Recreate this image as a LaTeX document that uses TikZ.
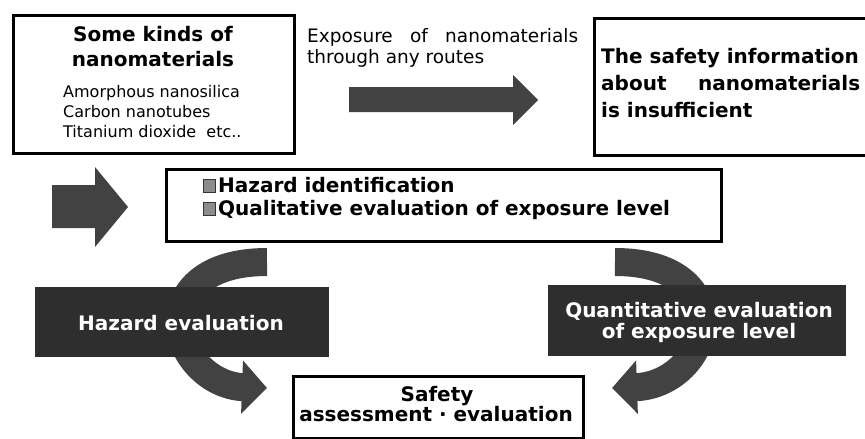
\documentclass[tikz,border=0pt]{standalone}
\usepackage{fontspec}
\setmainfont{DejaVu Sans}
\usetikzlibrary{arrows.meta}
\begin{document}
\begin{tikzpicture}[x=1pt,y=-1pt,
  box/.style={draw=black,line width=2.5pt,fill=white,inner sep=0pt,anchor=north west},
  darkbox/.style={fill=black!82,draw=black!82,line width=1pt,inner sep=0pt,anchor=north west},
  blockarrow/.style={fill=black!74},
  bent/.style={draw=black!74,line width=28pt,-{Triangle[length=25pt,width=52pt]}},
  bt/.style={font=\bfseries\fontsize{20}{24}\selectfont,inner sep=0pt},
  wt/.style={bt,text=white},
  st/.style={font=\fontsize{16}{20}\selectfont,inner sep=0pt,anchor=base west},
  et/.style={font=\fontsize{18.5}{22}\selectfont,inner sep=0pt,anchor=base west},
  bullet/.style={fill=black!45,draw=black!80,line width=1pt}
]
\useasboundingbox (0,0) rectangle (865,439);

% curved arrows (behind black boxes)
\draw[bent] (267,262) .. controls (205,262) and (180,292) .. (180,322)
  .. controls (180,355) and (210,386) .. (267,388);
\begin{scope}[xshift=882pt,xscale=-1]
\draw[bent] (267,262) .. controls (205,262) and (180,292) .. (180,322)
  .. controls (180,355) and (210,386) .. (270,388);
\end{scope}

% boxes
\node[box,minimum width=281pt,minimum height=138pt] (kinds) at (12,14) {};
\node[box,minimum width=290pt,minimum height=137pt] (info) at (593,17) {};
\node[box,minimum width=555pt,minimum height=72pt] (hazid) at (165,168) {};
\node[box,minimum width=290pt,minimum height=62pt] (safety) at (292,375) {};
\node[darkbox,minimum width=293pt,minimum height=69pt] (hazev) at (35,287) {};
\node[darkbox,minimum width=297pt,minimum height=70pt] (quant) at (548,285) {};

% straight block arrows
\path[blockarrow] (349,87) -- (513,87) -- (513,75) -- (538,100) -- (513,125)
  -- (513,112) -- (349,112) -- cycle;
\path[blockarrow] (52,185) -- (95,185) -- (95,167) -- (128,207) -- (95,247)
  -- (95,228) -- (52,228) -- cycle;

% texts: kinds box
\node[bt,anchor=base] (t1) at (153,41) {Some kinds of};
\node[bt,anchor=base] (t2) at (153,66) {nanomaterials};
\node[st] (t3) at (63,97) {Amorphous nanosilica};
\node[st] (t4) at (63,117) {Carbon nanotubes};
\node[st] (t5) at (63,137) {Titanium dioxide\ \ etc..};

% exposure text
\node[et] (e1) at (307,42) {\makebox[271pt][s]{Exposure of nanomaterials}};
\node[et] (e2) at (307,63) {through any routes};

% info box text
\node[bt,anchor=base west] (i1) at (601,63) {The safety information};
\node[bt,anchor=base west] (i2) at (601,90) {\makebox[259pt][s]{about nanomaterials}};
\node[bt,anchor=base west] (i3) at (601,117) {is insufficient};

% hazard identification box text
\draw[bullet] (203,179) rectangle (215,192);
\draw[bullet] (203,202) rectangle (215,215);
\node[bt,anchor=base west] (h1) at (218,192) {Hazard identification};
\node[bt,anchor=base west] (h2) at (218,215) {Qualitative evaluation of exposure level};

% dark box texts
\node[wt,anchor=base] (w1) at (181,330) {Hazard evaluation};
\node[wt,anchor=base] (w2) at (699,317) {Quantitative evaluation};
\node[wt,anchor=base] (w3) at (699,338) {of exposure level};

% safety box text
\node[bt,anchor=base] (s1) at (437,401) {Safety};
\node[bt,anchor=base] (s2) at (436,421) {assessment · evaluation};
\end{tikzpicture}
\end{document}
